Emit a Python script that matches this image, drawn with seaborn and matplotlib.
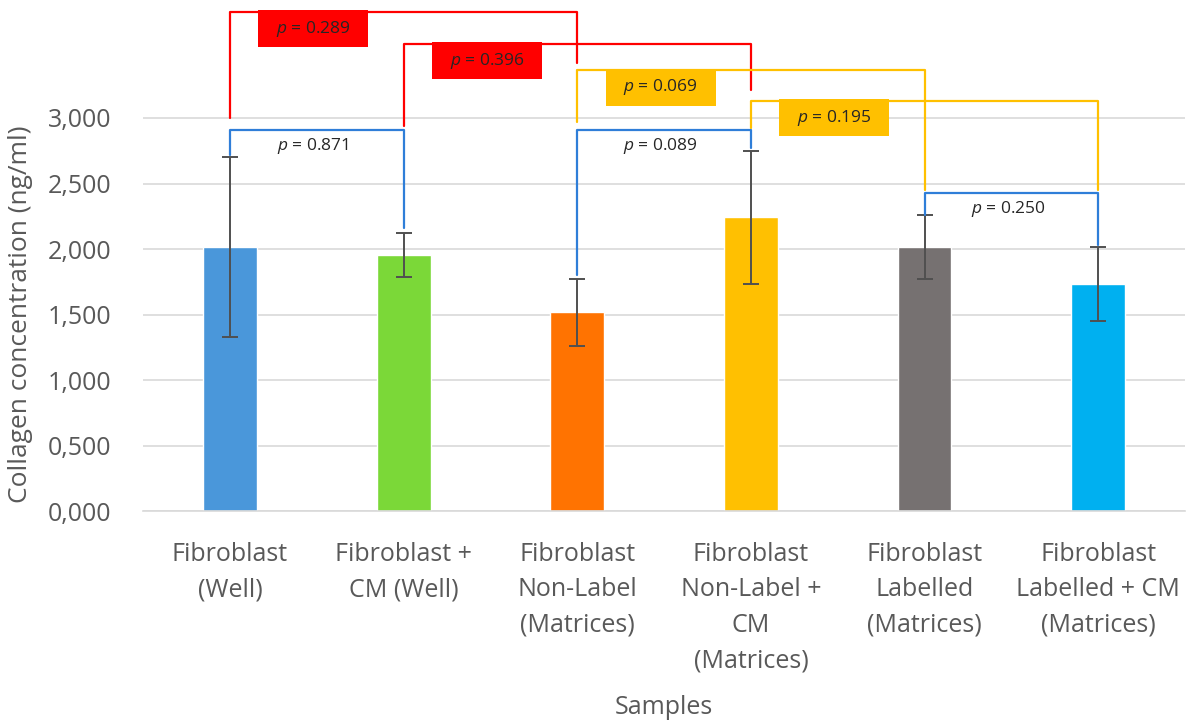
import numpy as np
import pandas as pd
from matplotlib import pyplot as plt
import matplotlib.patches as mpatches
import seaborn as sns

samples = ['Fibroblast\n(Well)', 'Fibroblast +\nCM (Well)', 'Fibroblast\nNon-Label\n(Matrices)',
           'Fibroblast\nNon-Label +\nCM\n(Matrices)', 'Fibroblast\nLabelled\n(Matrices)',
           'Fibroblast\nLabelled + CM\n(Matrices)']
collagen = [2017, 1954, 1517, 2242, 2017, 1731]
collagen_sd = [685, 170, 258, 509, 245, 283]
bar_colors = ['#4A97DA', '#7BD838', '#FF7301', '#FFC001', '#767171', '#00B0F0']

ytick_vals = [0, 500, 1000, 1500, 2000, 2500, 3000]
ytick_labels = ['0,000', '0,500', '1,000', '1,500', '2,000', '2,500', '3,000']

# brackets: left bar, right bar, top, left leg end, right leg end, p label, colour
brk_left = [0, 1, 2, 3, 0, 2, 4]
brk_right = [2, 3, 4, 5, 1, 3, 5]
brk_top = [3809, 3565, 3366, 3130, 2908, 2908, 2427]
brk_lend = [3000, 2939, 2969, 2924, 2718, 1802, 2260]
brk_rend = [3420, 3214, 2450, 2450, 2160, 2771, 2031]
brk_p = ['0.289', '0.396', '0.069', '0.195', '0.871', '0.089', '0.250']
brk_color = ['#FF0000', '#FF0000', '#FFC000', '#FFC000', '#2F7ED8', '#2F7ED8', '#2F7ED8']
brk_boxed = [True, True, True, True, False, False, False]

df = pd.DataFrame({'sample': samples, 'collagen': collagen})

sns.set_style('white')
plt.rcParams['font.family'] = ['Open Sans', 'DejaVu Sans']
plt.rcParams['mathtext.fontset'] = 'custom'
plt.rcParams['mathtext.it'] = 'Open Sans:italic'
plt.rcParams['mathtext.rm'] = 'Open Sans'

fig = plt.figure(figsize=(11.88, 7.2), dpi=100)
ax = fig.add_axes([0.1205, 0.290, 0.877, 0.71])

sns.barplot(data=df, x='sample', y='collagen', hue='sample', palette=bar_colors,
            legend=False, width=0.31, saturation=1, ax=ax, errorbar=None)
ax.errorbar(range(len(samples)), collagen, yerr=collagen_sd, fmt='none',
            ecolor='#505050', elinewidth=1.4, capsize=6, capthick=1.4, zorder=3)

for l, r, top, le, re, p, c, boxed in zip(brk_left, brk_right, brk_top, brk_lend, brk_rend,
                                          brk_p, brk_color, brk_boxed):
    ax.plot([l, l, r, r], [le, top, top, re], color=c, lw=1.6, zorder=4, clip_on=False)
    if boxed:
        tx, ty = l + 0.48, top - 130
        ax.add_patch(mpatches.Rectangle((tx - 0.317, ty - 141), 0.634, 282, fc=c, ec='none',
                                        zorder=4.5, clip_on=False))
    else:
        tx, ty = l + 0.48, top - 125
    ax.text(tx, ty, '$p$ = ' + p, ha='center', va='center', fontsize=12.5,
            color='#262626', zorder=5)

ax.set_ylim(0, 3900)
ax.set_xlim(-0.5, 5.5)
ax.set_yticks(ytick_vals)
ax.set_yticklabels(ytick_labels, fontsize=18, color='#595959')
ax.set_xticks(range(len(samples)))
ax.set_xticklabels(samples, fontsize=18, color='#595959', linespacing=1.55)
ax.tick_params(axis='y', length=0, pad=23)
ax.tick_params(axis='x', length=0, pad=22)
ax.yaxis.grid(True, color='#D9D9D9', lw=1.2)
ax.set_axisbelow(True)
for s in ['top', 'right', 'left']:
    ax.spines[s].set_visible(False)
ax.spines['bottom'].set_color('#D9D9D9')
ax.spines['bottom'].set_linewidth(1.2)
ax.set_ylabel('Collagen concentration (ng/ml)', fontsize=19, color='#595959')
ax.yaxis.set_label_coords(-0.1055, 0.385)
ax.set_xlabel('Samples', fontsize=18, color='#595959')
ax.xaxis.set_label_coords(0.5, -0.36)

fig.savefig('out.png', dpi=100)
